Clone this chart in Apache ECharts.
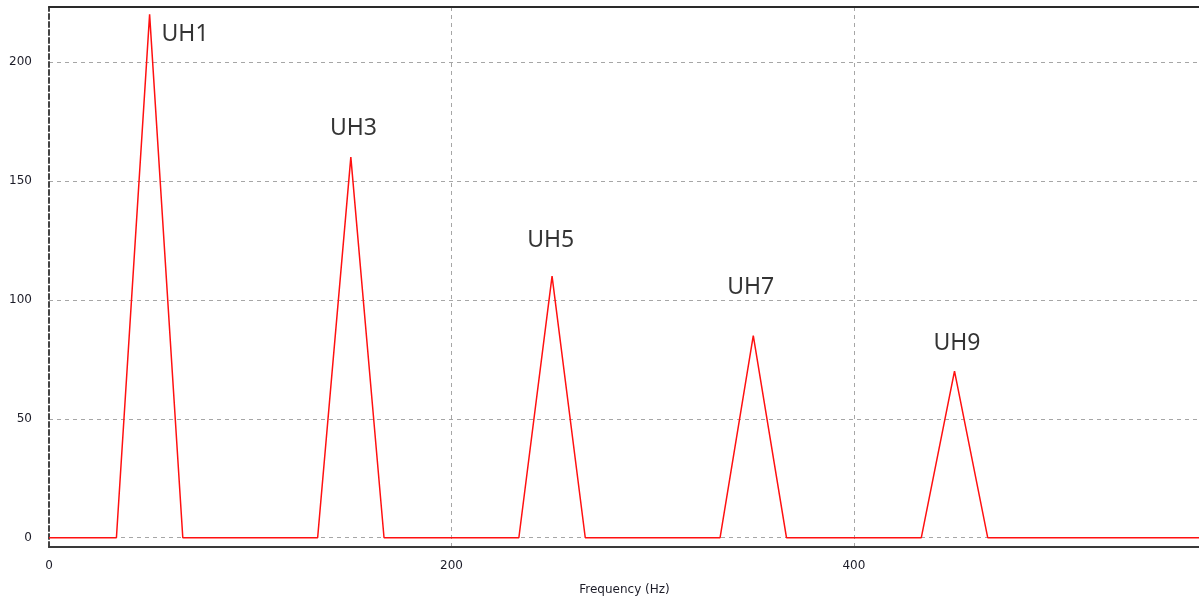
<!DOCTYPE html>
<html>
<head>
<meta charset="utf-8">
<script src="https://cdn.jsdelivr.net/npm/echarts@6/dist/echarts.min.js"></script>
<style>
  html, body { margin: 0; padding: 0; background: #ffffff; }
  #chart { width: 1199px; height: 597px; }
</style>
</head>
<body>
<div id="chart"></div>
<script>
// Spectrum vertices: frequency (Hz) and amplitude
const freqHz = [0, 33.5, 50, 66.5, 133.5, 150, 166.5, 233.5, 250, 266.5, 333.5, 350, 366.5, 433.5, 450, 466.5, 572];
const amplitude = [0, 0, 220, 0, 0, 160, 0, 0, 110, 0, 0, 85, 0, 0, 70, 0, 0];

// Harmonic annotations: name and where its text sits
const harmonicNames = ['UH1', 'UH3', 'UH5', 'UH7', 'UH9'];
const harmonicLabelFreq = [67.6, 151.3, 249.3, 348.7, 451.2];
const harmonicLabelAmp = [211.4, 171.9, 124.8, 105.2, 81.6];

// Tick labels
const xTicks = [0, 200, 400];
const yTicks = [0, 50, 100, 150, 200];

const chart = echarts.init(document.getElementById('chart'), null, { renderer: 'canvas' });

const tickFont = { fontFamily: 'DejaVu Sans', fontSize: 12, color: '#1c1c28' };
const gridLine = { show: true, lineStyle: { color: '#a6a6a6', type: [4, 4], width: 1 } };

chart.setOption({
  animation: false,
  backgroundColor: '#ffffff',
  grid: { left: 49, right: -1, top: 7, bottom: 50, outerBoundsMode: 'none', containLabel: false },
  xAxis: [
    {
      type: 'value',
      min: 0,
      max: 572,
      interval: 200,
      name: 'Frequency (Hz)',
      nameLocation: 'middle',
      nameGap: 37,
      nameTextStyle: Object.assign({}, tickFont, { fontSize: 12 }),
      axisLine: { show: true, onZero: false, lineStyle: { color: '#3a3a3a', width: 2 } },
      axisTick: { show: false },
      axisLabel: Object.assign({ margin: 13, customValues: xTicks }, tickFont),
      splitLine: gridLine
    },
    {
      type: 'value',
      position: 'top',
      min: 0,
      max: 572,
      axisLine: { show: true, onZero: false, lineStyle: { color: '#2a2a2a', width: 2 } },
      axisTick: { show: false },
      axisLabel: { show: false },
      splitLine: { show: false }
    }
  ],
  yAxis: {
    type: 'value',
    min: -3.9,
    max: 223.1,
    axisLine: { show: true, onZero: false, lineStyle: { color: '#444444', width: 2, type: [5, 3] } },
    axisTick: { show: false, customValues: yTicks },
    axisLabel: Object.assign({ margin: 17, customValues: yTicks }, tickFont),
    splitLine: gridLine
  },
  series: [
    {
      type: 'line',
      xAxisIndex: 0,
      data: freqHz.map((f, i) => [f, amplitude[i]]),
      symbol: 'none',
      lineStyle: { color: '#ff1010', width: 1.5 },
      z: 3
    },
    {
      type: 'scatter',
      xAxisIndex: 0,
      symbolSize: 0,
      silent: true,
      data: harmonicNames.map((n, i) => ({ name: n, value: [harmonicLabelFreq[i], harmonicLabelAmp[i]] })),
      label: {
        show: true,
        position: 'inside',
        formatter: p => p.name,
        fontFamily: 'Noto Sans',
        fontSize: 23,
        color: '#000000'
      },
      z: 4
    }
  ]
});
</script>
</body>
</html>
